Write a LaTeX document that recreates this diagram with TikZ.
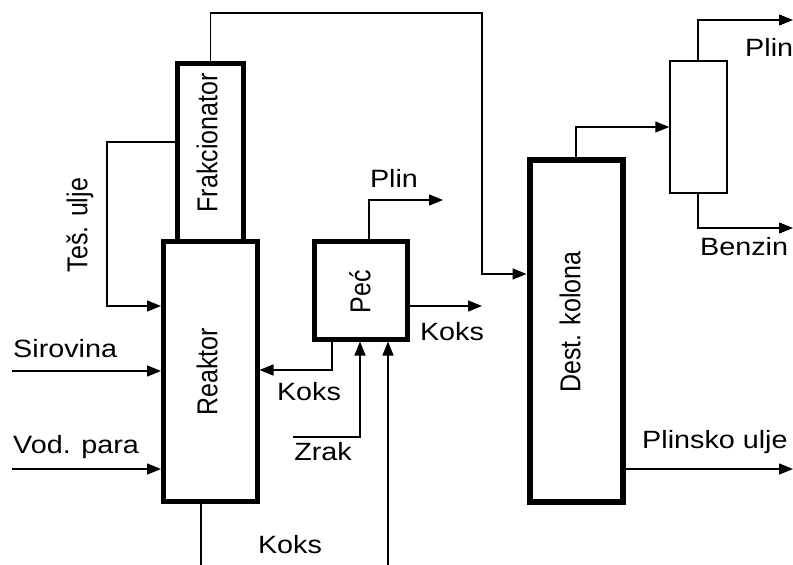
\documentclass[tikz,border=0pt]{standalone}
\usepackage{graphicx}
\usepackage{fontspec}
\setmainfont{Liberation Sans}
\newfontfamily\hfont[FakeStretch=1.15]{Liberation Sans}
\newcommand{\vstretch}[1]{\scalebox{1}[1.15]{#1}}
\usetikzlibrary{arrows.meta}
\begin{document}
\begin{tikzpicture}[x=1pt,y=-1pt,
  unit/.style={draw, line width=5pt, fill=white, inner sep=0pt, outer sep=2.5pt},
  smallcol/.style={draw, line width=1.5pt, fill=white, inner sep=0pt, outer sep=0.75pt},
  flow/.style={line width=1.4pt, -{Triangle[length=14pt,width=11pt]}},
  plain/.style={line width=1.4pt},
  lbl/.style={font=\hfont\fontsize{25}{30}\selectfont, inner sep=0pt},
  vlbl/.style={font=\fontsize{25}{30}\selectfont, rotate=90, inner sep=0pt}]
\useasboundingbox (0,0) rectangle (793,565);

% units
\node[unit, minimum width=66pt, minimum height=177.5pt] (frak) at (210.5,152.25) {};
\node[unit, minimum width=93.5pt, minimum height=260pt] (reak) at (210.25,371) {};
\node[unit, minimum width=93pt, minimum height=98pt] (pec) at (360.5,290) {};
\node[unit, line width=6pt, outer sep=3pt, minimum width=93pt, minimum height=342pt] (dest) at (576,330.5) {};
\node[smallcol, minimum width=57pt, minimum height=132pt] (col) at (698.5,127) {};

% unit labels
\node[vlbl] (tfrak) at (207,143) {\vstretch{Frakcionator}};
\node[vlbl] (treak) at (207,372) {\vstretch{Reaktor}};
\node[vlbl] (tpec) at (360,292) {\vstretch{Peć}};
\node[vlbl] (tdest) at (570,322) {\vstretch{Dest. kolona}};

% coordinates
\coordinate (c1) at (482,13);
\coordinate (c2) at (482,274);
\coordinate (t1) at (107,142);
\coordinate (t2) at (107,306);
\coordinate (s0) at (12,371);
\coordinate (v0) at (12,469);
\coordinate (kb) at (201,565);
\coordinate (p1) at (369,200);
\coordinate (p2) at (443,200);
\coordinate (k1) at (482,306);
\coordinate (k2) at (332,370);
\coordinate (z0) at (293,437);
\coordinate (z1) at (360,437);
\coordinate (z2) at (388,565);
\coordinate (d1) at (576,127);
\coordinate (c3) at (698,20);
\coordinate (c4) at (793,20);
\coordinate (c5) at (698,228);
\coordinate (c6) at (793,228);
\coordinate (pu) at (793,469);

% connectors
\draw[flow] (frak.north) |- (c1) -- (c2) -- (c2 -| dest.west);
\draw[flow] (t1 -| frak.west) -- (t1) -- (t2) -- (t2 -| reak.west);
\draw[flow] (s0) -- (s0 -| reak.west);
\draw[flow] (v0) -- (v0 -| reak.west);
\draw[plain] (kb |- reak.south) -- (kb);
\draw[flow] (p1 |- pec.north) -- (p1) -- (p2);
\draw[flow] (k1 -| pec.east) -- (k1);
\draw[flow] (k2 |- pec.south) -- (k2) -- (k2 -| reak.east);
\draw[flow] (z0) -- (z1) -- (z1 |- pec.south);
\draw[flow] (z2) -- (z2 |- pec.south);
\draw[flow] (dest.north) -- (d1) -- (d1 -| col.west);
\draw[flow] (col.north -| c3) -- (c3) -- (c4);
\draw[flow] (col.south -| c5) -- (c5) -- (c6);
\draw[flow] (pu -| dest.east) -- (pu);

% stream labels
\node[vlbl] (ltes) at (80,225) {\vstretch{Teš. ulje}};
\node[lbl, anchor=west] (lsir) at (13,349) {Sirovina};
\node[lbl, anchor=west] (lvod) at (13,447) {Vod. para};
\node[lbl] (lkoks1) at (309,392) {Koks};
\node[lbl] (lzrak) at (323,452) {Zrak};
\node[lbl] (lkoks2) at (290,545) {Koks};
\node[lbl] (lkoks3) at (452,332) {Koks};
\node[lbl] (lplin1) at (394,178) {Plin};
\node[lbl, anchor=west] (lplin2) at (745,47) {Plin};
\node[lbl, anchor=west] (lbenz) at (700,247) {Benzin};
\node[lbl, anchor=west] (lpu) at (642,442) {Plinsko ulje};
\end{tikzpicture}
\end{document}
